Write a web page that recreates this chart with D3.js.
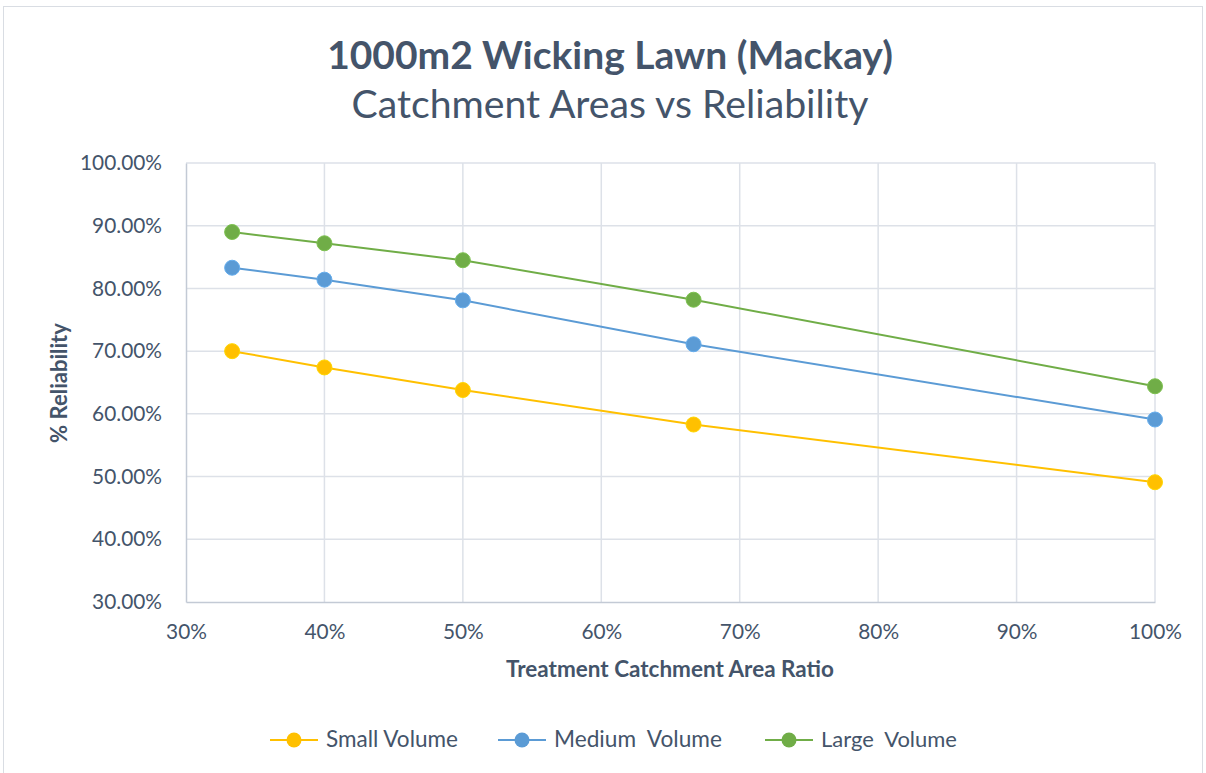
<!DOCTYPE html>
<html><head><meta charset="utf-8">
<script src="https://cdn.jsdelivr.net/npm/d3@7"></script>
<style>body{margin:0;background:#fff}svg{display:block}text{font-family:Lato,"Open Sans",sans-serif}</style>
</head><body>
<script>
const ratios = [1/3, 0.4, 0.5, 2/3, 1.0];
const smallVolume = [0.700, 0.674, 0.638, 0.583, 0.491];
const mediumVolume = [0.833, 0.814, 0.781, 0.711, 0.591];
const largeVolume = [0.890, 0.872, 0.845, 0.782, 0.644];
const seriesNames = ["Small Volume", "Medium  Volume", "Large  Volume"];
const seriesColors = ["#FFC000", "#5B9BD5", "#70AD47"];
const xTicks = [0.3,0.4,0.5,0.6,0.7,0.8,0.9,1.0];
const yTicks = [0.3,0.4,0.5,0.6,0.7,0.8,0.9,1.0];

const W = 1206, H = 773;
const svg = d3.select("body").append("svg").attr("width", W).attr("height", H);
svg.append("rect").attr("x",3.5).attr("y",6.5).attr("width",1199).attr("height",780).attr("fill","#fff").attr("stroke","#D9DDE3");

const x = d3.scaleLinear().domain([0.3,1.0]).range([186,1155]);
const y = d3.scaleLinear().domain([0.3,1.0]).range([602,163]);
const txt = "#44546A";

// fit font size so text reaches a target width
function fit(sel, base, target){
  sel.attr("font-size", base);
  const w = sel.node().getComputedTextLength();
  sel.attr("font-size", base * target / w);
}

// gridlines
svg.append("g").selectAll("line.v").data(xTicks.slice(1)).join("line")
  .attr("x1",d=>x(d)).attr("x2",d=>x(d)).attr("y1",y(1)).attr("y2",y(0.3))
  .attr("stroke","#DDE1E8").attr("stroke-width",1.5);
svg.append("g").selectAll("line.h").data(yTicks.slice(1)).join("line")
  .attr("x1",x(0.3)).attr("x2",x(1)).attr("y1",d=>y(d)).attr("y2",d=>y(d))
  .attr("stroke","#DDE1E8").attr("stroke-width",1.5);

// axes
const xAxis = svg.append("g").attr("transform",`translate(0,${y(0.3)})`)
  .call(d3.axisBottom(x).tickValues(xTicks).tickFormat(d3.format(".0%")).tickSize(0).tickPadding(22));
const yAxis = svg.append("g").attr("transform",`translate(${x(0.3)},0)`)
  .call(d3.axisLeft(y).tickValues(yTicks).tickFormat(d3.format(".2%")).tickSize(0).tickPadding(24));
[xAxis,yAxis].forEach(a=>{
  a.select(".domain").attr("stroke","#C3CAD5").attr("stroke-width",1.5);
  a.selectAll("text").attr("fill",txt).attr("font-family","Lato");
});
const probe = yAxis.selectAll("text").filter(d=>d===1.0);
fit(probe, 18, 82);
const tickSize = +probe.attr("font-size");
xAxis.selectAll("text").attr("font-size",tickSize);
yAxis.selectAll("text").attr("font-size",tickSize);

// lines
const allSeries = [smallVolume, mediumVolume, largeVolume];
const line = d3.line().x((d,i)=>x(ratios[i])).y(d=>y(d));
allSeries.forEach((s,k)=>{
  svg.append("path").datum(s).attr("d",line).attr("fill","none")
    .attr("stroke",seriesColors[k]).attr("stroke-width",2);
  svg.append("g").selectAll("circle").data(s).join("circle")
    .attr("cx",(d,i)=>x(ratios[i])).attr("cy",d=>y(d)).attr("r",7.5)
    .attr("fill",seriesColors[k]).attr("stroke",d3.color(seriesColors[k]).brighter(0.3)).attr("stroke-width",1);
});

// titles
fit(svg.append("text").attr("x",610).attr("y",69).attr("text-anchor","middle")
  .attr("font-weight","bold").attr("fill",txt).text("1000m2 Wicking Lawn (Mackay)"), 36, 566);
fit(svg.append("text").attr("x",610).attr("y",118).attr("text-anchor","middle")
  .attr("fill",txt).text("Catchment Areas vs Reliability"), 35, 517);
fit(svg.append("text").attr("x",670).attr("y",677).attr("text-anchor","middle")
  .attr("font-weight","bold").attr("fill",txt).text("Treatment Catchment Area Ratio"), 19, 328);
fit(svg.append("text").attr("transform","translate(67,383) rotate(-90)").attr("text-anchor","middle")
  .attr("font-weight","bold").attr("fill",txt).text("% Reliability"), 19, 120);

// legend
const legX = [270, 498, 765];
const legW = [132, 168, 136];
seriesNames.forEach((n,k)=>{
  const g = svg.append("g").attr("transform",`translate(${legX[k]},740)`);
  g.append("line").attr("x1",0).attr("x2",48).attr("stroke",seriesColors[k]).attr("stroke-width",2);
  g.append("circle").attr("cx",24).attr("r",7.5).attr("fill",seriesColors[k]);
  fit(g.append("text").attr("x",56).attr("y",7).attr("fill",txt)
    .style("white-space","pre").text(n), 19, legW[k]);
});
</script>
</body></html>
